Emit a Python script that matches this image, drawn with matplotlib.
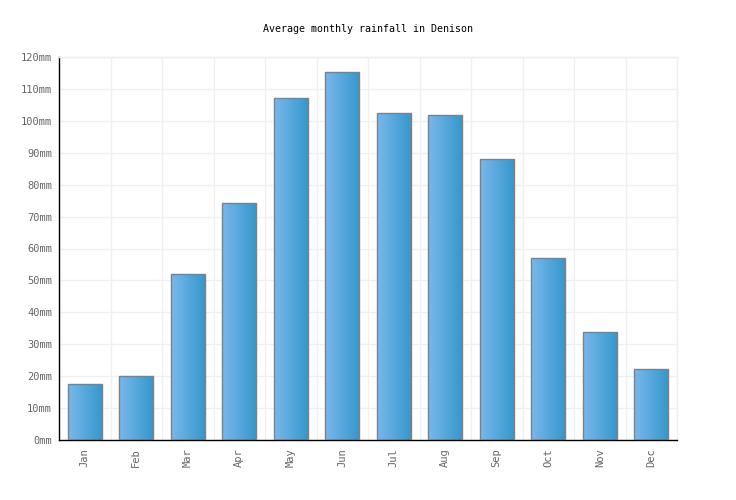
import numpy as np
import matplotlib
matplotlib.use("Agg")
import matplotlib.pyplot as plt
from matplotlib.colors import LinearSegmentedColormap

months = ["Jan", "Feb", "Mar", "Apr", "May", "Jun", "Jul", "Aug", "Sep", "Oct", "Nov", "Dec"]
rainfall = [17.5, 20.0, 52.0, 74.1, 107.3, 115.2, 102.3, 101.7, 87.9, 56.9, 33.7, 22.4]
yticks = [0, 10, 20, 30, 40, 50, 60, 70, 80, 90, 100, 110, 120]
ytick_labels = [f"{v}mm" for v in yticks]

plt.rcParams['font.family'] = ['DejaVu Sans Mono']
fig = plt.figure(figsize=(7.36, 5.0), dpi=100)
ax = fig.add_axes([59/736, 60/500, 618/736, 383/500])

x = np.arange(len(months))
bars = ax.bar(x, rainfall, width=0.66, color="none", edgecolor="#808080", linewidth=1.0, zorder=3)

cmap = LinearSegmentedColormap.from_list("g", ["#7ab8ec", "#3598cc"])
grad = np.linspace(0, 1, 256).reshape(1, -1)
for b in bars:
    x0, y0 = b.get_x(), b.get_y()
    w, h = b.get_width(), b.get_height()
    im = ax.imshow(grad, cmap=cmap, aspect="auto", extent=[x0, x0 + w, y0, y0 + h], zorder=2)
    im.set_clip_path(b)

ax.set_xlim(-0.5, len(months) - 0.5)
ax.set_ylim(0, 120)
ax.set_yticks(yticks)
ax.set_yticklabels(ytick_labels)
ax.set_xticks(x)
ax.set_xticklabels(months, rotation=90)
ax.set_xticks(np.arange(-0.5, len(months), 1.0), minor=True)

ax.grid(True, axis="y", which="major", color="#f0f0f0", linewidth=1, zorder=0)
ax.grid(True, axis="x", which="minor", color="#f0f0f0", linewidth=1, zorder=0)
ax.grid(False, axis="x", which="major")
ax.set_axisbelow(True)

ax.tick_params(axis="both", which="both", length=0, labelsize=7.5, labelcolor="#666666")
ax.tick_params(axis="y", pad=5)
ax.tick_params(axis="x", pad=6)

for s in ["top", "right"]:
    ax.spines[s].set_color("#eeeeee")
    ax.spines[s].set_linewidth(1)
for s in ["left", "bottom"]:
    ax.spines[s].set_color("#000000")
    ax.spines[s].set_linewidth(1)

fig.text(368/736, 1 - 29/500, "Average monthly rainfall in Denison", ha="center", va="center",
         fontsize=7.2, color="#000000")

fig.savefig("out.png", dpi=100, facecolor="white")
